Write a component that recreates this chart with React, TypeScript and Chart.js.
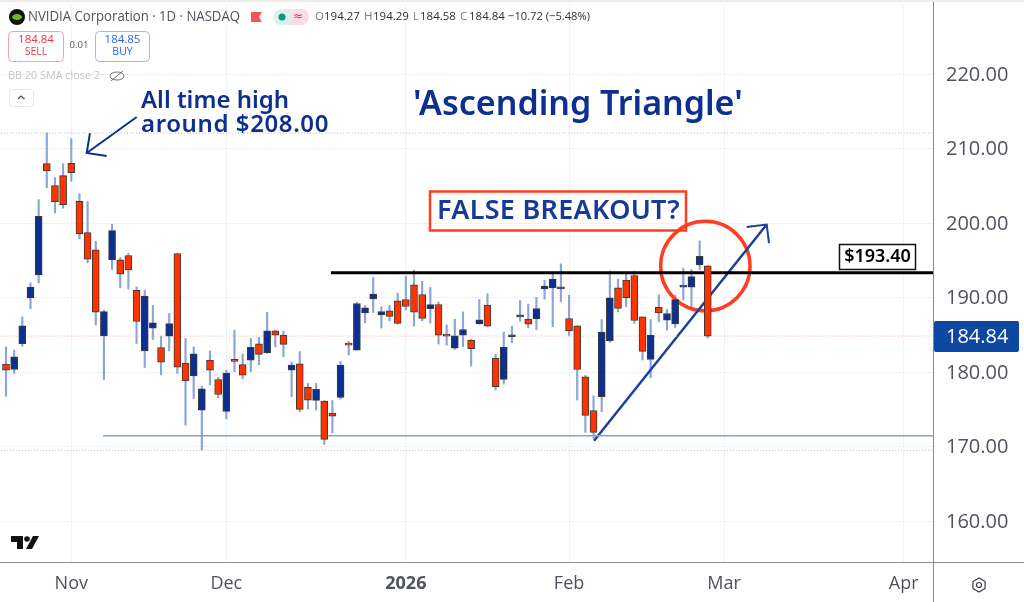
import { useEffect, useRef } from "react";
import { Chart, registerables } from "chart.js";

Chart.register(...registerables);

// daily NVDA candles
const opens = [
  181.07, 180.35, 183.84, 189.97, 193.06, 208.01, 205.05, 206.39, 208.05, 202.95, 198.74, 196.42, 184.87, 195.07, 195.07,
  195.66, 191.0, 182.86, 185.9, 183.31, 184.83, 195.93, 181.2, 179.5, 174.9, 181.61, 179.01, 174.72, 181.7, 181.03,
  181.61, 183.81, 182.6, 185.55, 184.97, 180.27, 181.12, 177.95, 176.2, 176.11, 174.5, 176.6, 183.9, 182.96, 187.97,
  189.85, 187.7, 188.24, 189.58, 189.76, 191.73, 190.43, 188.51, 189.09, 185.06, 183.23, 184.97, 184.3, 186.49, 189.0,
  181.88, 179.02, 184.75, 187.43, 187.12, 187.16, 191.19, 191.32, 191.19, 187.21, 186.22, 179.38, 174.85, 176.69, 184.21,
  191.32, 192.35, 192.98, 187.43, 181.7, 188.69, 186.98, 186.49, 191.41, 191.41, 194.41, 194.27,
];
const highs = [
  183.4, 182.95, 187.42, 191.99, 203.17, 212.12, 206.13, 208.01, 211.36, 203.98, 202.91, 197.58, 188.32, 199.86, 195.39,
  195.93, 191.45, 191.0, 188.95, 184.83, 187.87, 195.93, 184.52, 183.4, 178.12, 182.86, 179.28, 180.27, 185.64, 182.42,
  184.52, 184.66, 188.01, 185.64, 185.51, 181.35, 182.78, 178.48, 178.48, 176.16, 176.16, 181.44, 184.12, 189.36, 188.95,
  192.71, 188.77, 188.95, 190.61, 192.89, 193.7, 192.22, 191.37, 189.44, 186.36, 187.12, 188.1, 184.39, 189.76, 190.52,
  182.42, 185.37, 186.18, 189.62, 189.13, 190.03, 192.35, 193.43, 194.55, 190.34, 186.22, 179.56, 176.82, 187.07, 193.6,
  192.49, 193.25, 193.56, 187.43, 187.07, 190.39, 188.41, 190.34, 193.96, 193.78, 197.63, 194.29,
];
const lows = [
  176.78, 179.82, 183.49, 188.5, 191.99, 204.78, 201.38, 202.01, 205.63, 197.89, 194.67, 186.35, 179.01, 193.78, 191.32,
  191.18, 183.84, 180.62, 184.38, 179.64, 182.86, 179.82, 172.88, 176.46, 169.53, 178.3, 176.55, 173.73, 180.05, 179.11,
  180.05, 180.99, 182.51, 183.4, 182.06, 176.69, 174.68, 175.04, 174.9, 170.29, 171.86, 176.38, 182.29, 182.96, 186.63,
  188.01, 185.91, 186.89, 186.45, 188.33, 186.18, 186.89, 186.58, 183.76, 183.63, 183.05, 183.4, 180.81, 186.45, 186.09,
  177.59, 178.39, 183.94, 186.85, 185.95, 185.69, 189.8, 186.09, 189.44, 184.93, 176.25, 171.91, 171.1, 174.68, 184.03,
  188.1, 188.77, 186.54, 181.62, 179.24, 186.76, 185.64, 186.0, 189.67, 188.32, 193.78, 184.58,
];
const closes = [
  180.27, 182.05, 186.22, 191.41, 200.94, 207.02, 202.91, 202.5, 206.8, 198.61, 195.16, 188.05, 188.14, 199.01, 193.15,
  193.73, 186.8, 190.2, 186.62, 181.34, 186.53, 180.67, 178.83, 182.46, 177.76, 180.27, 177.0, 179.86, 181.44, 179.6,
  183.32, 182.38, 185.55, 184.97, 183.72, 180.94, 174.99, 176.25, 177.68, 170.97, 174.1, 180.94, 183.63, 189.22, 188.64,
  190.47, 188.15, 187.48, 186.54, 188.82, 188.06, 187.21, 189.09, 184.97, 184.84, 184.88, 185.73, 183.14, 187.03, 186.18,
  178.04, 183.32, 184.84, 187.66, 186.45, 188.55, 191.55, 192.49, 191.28, 185.55, 180.36, 174.19, 171.9, 185.37, 189.98,
  188.55, 189.98, 186.94, 182.78, 184.97, 187.97, 187.88, 189.75, 191.5, 192.84, 195.57, 184.84,
];

const monthDays = [8, 27, 49, 69, 88, 110];
const monthLabels = ["Nov", "Dec", "2026", "Feb", "Mar", "Apr"];
const priceTicks = [160, 170, 180, 190, 200, 210, 220];

const resistance = 193.35;
const support = 171.45;
const allTimeHigh = 212.1;
const periodLow = 169.5;
const lastPrice = 184.84;

const trendDays = [72.06, 93.22];
const trendPrices = [170.78, 199.83];
const trendHeadDays = [90.77, 93.22, 93.5];
const trendHeadPrices = [199.5, 199.83, 197.32];
const athArrowDays = [16.02, 9.89];
const athArrowPrices = [214.27, 209.44];
const athHeadDays = [10.29, 9.89, 12.34];
const athHeadPrices = [212.08, 209.44, 209.03];

const BLUE = "#0d2f8f";
const RED = "#ff3300";
const GREY_TEXT = "#50535e";
const ORANGE = "#ff3d1f";
const AXIS_FONT = "Open Sans";

const zip = (xs: number[], ys: number[]) => xs.map((x, i) => ({ x, y: ys[i] }));

const refLine = (data: { x: number; y: number }[], color: string, width: number, dash: number[] = []) => ({
  type: "line" as const,
  data,
  borderColor: color,
  borderWidth: width,
  borderDash: dash,
  pointRadius: 0,
  tension: 0,
  order: 1,
});

function text(ctx: CanvasRenderingContext2D, s: string, x: number, y: number, font: string, color: string, align: CanvasTextAlign = "left", maxW?: number, spacing = 0) {
  ctx.font = font;
  ctx.fillStyle = color;
  ctx.textAlign = align;
  ctx.textBaseline = "middle";
  ctx.letterSpacing = `${spacing}px`;
  if (maxW) ctx.fillText(s, x, y, maxW);
  else ctx.fillText(s, x, y);
  ctx.letterSpacing = "0px";
}

function roundBox(ctx: CanvasRenderingContext2D, x: number, y: number, w: number, h: number, r: number, stroke: string) {
  ctx.beginPath();
  ctx.roundRect(x, y, w, h, r);
  ctx.strokeStyle = stroke;
  ctx.lineWidth = 1;
  ctx.stroke();
}

// the scales ask for room for their outer labels, the plot has to run edge to edge
const noPadding = (axis: any) => {
  axis.paddingLeft = 0;
  axis.paddingRight = 0;
  axis.paddingTop = 0;
  axis.paddingBottom = 0;
};

// page furniture around the plot: header, boxes, price tag, logo
const chrome = {
  id: "chrome",
  beforeDraw(chart: Chart) {
    const { ctx, width, height } = chart;
    ctx.save();
    ctx.fillStyle = "#ffffff";
    ctx.fillRect(0, 0, width, height);
    ctx.fillStyle = "#ececec";
    ctx.fillRect(0, 0, width, 2);
    ctx.restore();
  },
  afterDraw(chart: Chart) {
    const { ctx } = chart;
    const area = chart.chartArea;
    ctx.save();

    // axis frame
    ctx.strokeStyle = "#8a8d94";
    ctx.lineWidth = 1;
    ctx.beginPath();
    ctx.moveTo(area.right + 0.5, 2);
    ctx.lineTo(area.right + 0.5, 602);
    ctx.moveTo(0, area.bottom + 0.5);
    ctx.lineTo(1024, area.bottom + 0.5);
    ctx.stroke();

    // symbol line
    ctx.fillStyle = "#111111";
    ctx.beginPath();
    ctx.arc(17, 17, 8, 0, Math.PI * 2);
    ctx.fill();
    ctx.fillStyle = "#6fb51e";
    ctx.beginPath();
    ctx.ellipse(17, 17, 5, 3, 0, 0, Math.PI * 2);
    ctx.fill();
    text(ctx, "NVIDIA Corporation · 1D · NASDAQ", 28, 17, "14.5px 'Open Sans'", GREY_TEXT, "left", 212);
    ctx.fillStyle = "#f7525f";
    ctx.beginPath();
    ctx.moveTo(251, 12);
    ctx.lineTo(262, 12);
    ctx.lineTo(259, 17);
    ctx.lineTo(262, 22);
    ctx.lineTo(251, 22);
    ctx.fill();
    ctx.fillStyle = "#daf1ec";
    ctx.beginPath();
    ctx.roundRect(273, 9, 19, 16, [8, 0, 0, 8]);
    ctx.fill();
    ctx.fillStyle = "#fbdce6";
    ctx.beginPath();
    ctx.roundRect(291, 9, 18, 16, [0, 8, 8, 0]);
    ctx.fill();
    ctx.fillStyle = "#089981";
    ctx.beginPath();
    ctx.arc(282, 17, 3.5, 0, Math.PI * 2);
    ctx.fill();
    text(ctx, "≈", 298, 17, "12px 'DejaVu Sans'", "#e91e63", "center");

    const ohlcFont = "11.5px 'Open Sans'";
    const ohlc: [string, string, number][] = [
      ["O", "194.27", 315],
      ["H", "194.29", 364],
      ["L", "184.58", 413],
      ["C", "184.84", 460],
    ];
    ohlc.forEach(([k, v, x]) => {
      text(ctx, k, x, 17, ohlcFont, "#787b86");
      text(ctx, v, x + (k === "L" ? 7 : 9), 17, ohlcFont, "#2a2e39");
    });
    text(ctx, "−10.72 (−5.48%)", 508, 17, ohlcFont, "#2a2e39", "left", 82);

    // sell / buy
    roundBox(ctx, 8.5, 31.5, 55, 30, 4, "#f5a3aa");
    text(ctx, "184.84", 36, 40, "11.5px 'Open Sans'", "#f23645", "center");
    text(ctx, "SELL", 36, 52, "10.5px 'Open Sans'", "#f23645", "center");
    text(ctx, "0.01", 79, 45.5, "9.5px 'Open Sans'", GREY_TEXT, "center");
    roundBox(ctx, 95.5, 31.5, 54, 30, 4, "#9db8f8");
    text(ctx, "184.85", 122.5, 40, "11.5px 'Open Sans'", "#2962ff", "center");
    text(ctx, "BUY", 122.5, 52, "10.5px 'Open Sans'", "#2962ff", "center");

    // indicator line
    text(ctx, "BB 20 SMA close 2", 8, 76, "11px 'Open Sans'", "#c3c4c9", "left", 92);
    ctx.strokeStyle = "#6e7079";
    ctx.lineWidth = 1;
    ctx.beginPath();
    ctx.ellipse(117, 76, 7, 4, 0, 0, Math.PI * 2);
    ctx.moveTo(111, 81);
    ctx.lineTo(123, 71);
    ctx.stroke();
    roundBox(ctx, 9.5, 89.5, 24, 17, 3, "#e6e6e8");
    ctx.strokeStyle = GREY_TEXT;
    ctx.lineWidth = 1.2;
    ctx.beginPath();
    ctx.moveTo(18, 99);
    ctx.lineTo(21, 96);
    ctx.lineTo(24.5, 99);
    ctx.stroke();

    // chart notes
    const noteFont = "600 24px 'Noto Sans'";
    text(ctx, "All time high", 141, 101, noteFont, BLUE, "left", 148);
    text(ctx, "around $208.00", 141, 125, noteFont, BLUE, "left", 188, 0.6);
    text(ctx, "'Ascending Triangle'", 413, 105, "600 34px 'Noto Sans'", BLUE, "left", 330);

    ctx.strokeStyle = ORANGE;
    ctx.lineWidth = 2.5;
    ctx.strokeRect(430, 191.5, 256, 39);
    text(ctx, "FALSE BREAKOUT?", 437, 211, "600 27px 'Noto Sans'", "#153a9a", "left", 243, 0.3);

    ctx.fillStyle = "#ffffff";
    ctx.fillRect(839.5, 244.5, 76, 25);
    ctx.strokeStyle = "#111111";
    ctx.lineWidth = 1.5;
    ctx.strokeRect(839.5, 244.5, 76, 25);
    text(ctx, "$193.40", 877.5, 257, "600 18px 'Noto Sans'", "#000000", "center", 70);

    // last price tag
    ctx.fillStyle = "#0e47a1";
    ctx.beginPath();
    ctx.roundRect(area.right + 1, 321, 85, 31, 2);
    ctx.fill();
    text(ctx, lastPrice.toFixed(2), 946, 337, `20px '${AXIS_FONT}'`, "#ffffff");

    // logo
    ctx.fillStyle = "#111111";
    ctx.beginPath();
    ctx.moveTo(11, 536);
    ctx.lineTo(23, 536);
    ctx.lineTo(23, 549);
    ctx.lineTo(17, 549);
    ctx.lineTo(17, 542);
    ctx.lineTo(11, 542);
    ctx.fill();
    ctx.beginPath();
    ctx.arc(27, 539, 2.8, 0, Math.PI * 2);
    ctx.fill();
    ctx.beginPath();
    ctx.moveTo(33, 536);
    ctx.lineTo(39, 536);
    ctx.lineTo(32, 549);
    ctx.lineTo(26, 549);
    ctx.fill();

    // settings
    ctx.strokeStyle = "#3a3d46";
    ctx.lineWidth = 1.2;
    ctx.beginPath();
    for (let i = 0; i < 6; i++) {
      const a = (Math.PI / 3) * i + Math.PI / 6;
      const px = 979 + 7 * Math.cos(a);
      const py = 585 + 7 * Math.sin(a);
      if (i === 0) ctx.moveTo(px, py);
      else ctx.lineTo(px, py);
    }
    ctx.closePath();
    ctx.moveTo(981.5, 585);
    ctx.arc(979, 585, 2.5, 0, Math.PI * 2);
    ctx.stroke();

    ctx.restore();
  },
};

export default function App() {
  const canvasRef = useRef<HTMLCanvasElement>(null);

  useEffect(() => {
    if (!canvasRef.current) return;
    const days = opens.map((_, i) => i);
    const bodyColors = opens.map((o, i) => (closes[i] >= o ? BLUE : RED));

    const chart = new Chart(canvasRef.current, {
      type: "bar",
      data: {
        datasets: [
          {
            type: "bar",
            label: "bodies",
            data: days.map((d) => ({ x: d, y: [opens[d], closes[d]] })),
            backgroundColor: bodyColors,
            borderColor: "#3a3a3a",
            borderWidth: 1,
            borderSkipped: false,
            barThickness: 7,
            minBarLength: 2,
            grouped: false,
            order: 0,
          },
          {
            type: "bar",
            label: "wicks",
            data: days.map((d) => ({ x: d, y: [lows[d], highs[d]] })),
            backgroundColor: "#8ba5d6",
            barThickness: 1.5,
            grouped: false,
            order: 2,
          },
          refLine([{ x: -1, y: allTimeHigh }, { x: 114, y: allTimeHigh }], "#b5b5b5", 1, [1, 2]),
          refLine([{ x: -1, y: periodLow }, { x: 114, y: periodLow }], "#b5b5b5", 1, [1, 2]),
          refLine([{ x: -1, y: lastPrice }, { x: 114, y: lastPrice }], "#f7a6a6", 1, [1, 2]),
          refLine([{ x: 11.89, y: support }, { x: 114, y: support }], "#8ba0cf", 1.5),
          refLine([{ x: 39.83, y: resistance }, { x: 114, y: resistance }], "#000000", 3),
          refLine(zip(trendDays, trendPrices), "#1c3fa0", 2.5),
          refLine(zip(trendHeadDays, trendHeadPrices), "#1c3fa0", 2),
          refLine(zip(athArrowDays, athArrowPrices), BLUE, 2),
          refLine(zip(athHeadDays, athHeadPrices), BLUE, 2),
          {
            type: "line",
            label: "breakout",
            data: [{ x: 85.7, y: 194.25 }],
            showLine: false,
            pointRadius: 44.7,
            pointBackgroundColor: "rgba(0,0,0,0)",
            pointBorderColor: ORANGE,
            pointBorderWidth: 3.5,
            order: 1,
          },
        ],
      },
      options: {
        animation: false,
        responsive: false,
        layout: { autoPadding: false, padding: { top: 5, left: 0, right: 0, bottom: 0 } },
        plugins: { legend: { display: false }, tooltip: { enabled: false } },
        scales: {
          x: {
            type: "linear",
            offset: false,
            min: -0.735,
            max: 113.6,
            afterBuildTicks: (axis) => {
              axis.ticks = monthDays.map((value) => ({ value }));
            },
            afterFit: (axis) => {
              axis.height = 40;
              noPadding(axis);
            },
            grid: { color: "#eef3f8", drawTicks: false, offset: false },
            border: { display: false },
            ticks: {
              autoSkip: false,
              maxRotation: 0,
              padding: 11,
              color: GREY_TEXT,
              callback: (value) => monthLabels[monthDays.indexOf(Number(value))],
              font: (c) => ({
                family: AXIS_FONT,
                size: 18,
                weight: monthLabels[c.index] === "2026" ? "bold" : "normal",
              }),
            },
          },
          y: {
            position: "right",
            min: 154.5,
            max: 229.31,
            afterBuildTicks: (axis) => {
              axis.ticks = priceTicks.map((value) => ({ value }));
            },
            afterFit: (axis) => {
              axis.width = 91;
              noPadding(axis);
            },
            grid: { color: "#eef3f8", drawTicks: false },
            border: { display: false },
            ticks: {
              padding: 13,
              labelOffset: 1,
              color: GREY_TEXT,
              callback: (value) => Number(value).toFixed(2),
              font: { family: AXIS_FONT, size: 20 },
            },
          },
        },
      },
      plugins: [chrome],
    });
    return () => chart.destroy();
  }, []);

  return (
    <div style={{ position: "fixed", left: 0, top: 0, width: 1024, height: 602 }}>
      <canvas ref={canvasRef} width={1024} height={602} style={{ display: "block" }} />
    </div>
  );
}
